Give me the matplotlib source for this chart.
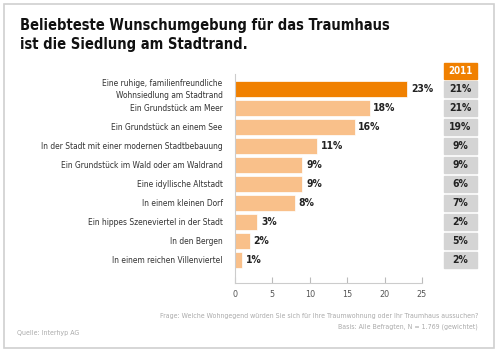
import matplotlib.pyplot as plt
from matplotlib.patches import Rectangle
from matplotlib.transforms import blended_transform_factory

plt.rcParams['font.family'] = ['DejaVu Sans']
plt.rcParams['font.stretch'] = 'condensed'

labels = [
    "Eine ruhige, familienfreundliche\nWohnsiedlung am Stadtrand",
    "Ein Grundstück am Meer",
    "Ein Grundstück an einem See",
    "In der Stadt mit einer modernen Stadtbebauung",
    "Ein Grundstück im Wald oder am Waldrand",
    "Eine idyllische Altstadt",
    "In einem kleinen Dorf",
    "Ein hippes Szeneviertel in der Stadt",
    "In den Bergen",
    "In einem reichen Villenviertel",
]
values = [23, 18, 16, 11, 9, 9, 8, 3, 2, 1]
values_2011 = [21, 21, 19, 9, 9, 6, 7, 2, 5, 2]
xticks = [0, 5, 10, 15, 20, 25]

fig = plt.figure(figsize=(5, 3.53), dpi=100)
ax = fig.add_axes([0.47, 0.198, 0.374, 0.592])

colors = ["#f08000"] + ["#f9c08a"] * (len(values) - 1)
ypos = list(range(len(values)))
ax.barh(ypos, values, height=0.88, color=colors, edgecolor="white", linewidth=0.5)

for y, v in zip(ypos, values):
    ax.text(v + 0.5, y, f"{v}%", va="center", ha="left", fontsize=7.5,
            fontweight="bold", color="#222222")

ax.set_ylim(10.21, -0.79)
ax.set_xlim(0, 25)
ax.set_xticks(xticks)
ax.set_yticks(ypos)
ax.set_yticklabels(labels, fontsize=6, color="#333333", linespacing=1.45,
                   va="center")
ax.tick_params(axis="y", length=0, pad=9)
ax.tick_params(axis="x", direction="in", length=4, color="#bbbbbb",
               labelsize=6.5, labelcolor="#555555", pad=5)
for s in ["top", "right"]:
    ax.spines[s].set_visible(False)
for s in ["left", "bottom"]:
    ax.spines[s].set_color("#cccccc")

# table of 2011 values
tr = blended_transform_factory(fig.transFigure, ax.transData)
cx0, cw = 444 / 500, 33 / 500
ax.add_patch(Rectangle((cx0, -0.95 - 0.44), cw, 0.88, transform=tr,
                       color="#f08000", clip_on=False))
ax.text(cx0 + cw / 2, -0.95, "2011", transform=tr, ha="center", va="center",
        fontsize=7, fontweight="bold", color="white", clip_on=False)
for y, v in zip(ypos, values_2011):
    ax.add_patch(Rectangle((cx0, y - 0.44), cw, 0.88, transform=tr,
                           color="#d4d4d4", clip_on=False))
    ax.text(cx0 + cw / 2, y, f"{v}%", transform=tr, ha="center", va="center",
            fontsize=7.5, fontweight="bold", color="#222222", clip_on=False)

# frame, title and notes
fig.patches.append(Rectangle((4 / 500, 5 / 353), 490 / 500, 344 / 353,
                             transform=fig.transFigure, fill=False,
                             edgecolor="#d0d0d0", linewidth=1.2))
fig.text(20 / 500, 1 - 18 / 353,
         "Beliebteste Wunschumgebung für das Traumhaus\nist die Siedlung am Stadtrand.",
         ha="left", va="top", fontsize=10.5, fontweight="bold", color="#111111",
         linespacing=1.3)
fig.text(478 / 500, 1 - 316 / 353,
         "Frage: Welche Wohngegend würden Sie sich für Ihre Traumwohnung oder Ihr Traumhaus aussuchen?",
         ha="right", va="center", fontsize=5, color="#aaaaaa")
fig.text(478 / 500, 1 - 327 / 353,
         "Basis: Alle Befragten, N = 1.769 (gewichtet)",
         ha="right", va="center", fontsize=5, color="#aaaaaa")
fig.text(17 / 500, 1 - 333 / 353, "Quelle: Interhyp AG",
         ha="left", va="center", fontsize=5, color="#aaaaaa")

fig.savefig("out.png", dpi=100)
